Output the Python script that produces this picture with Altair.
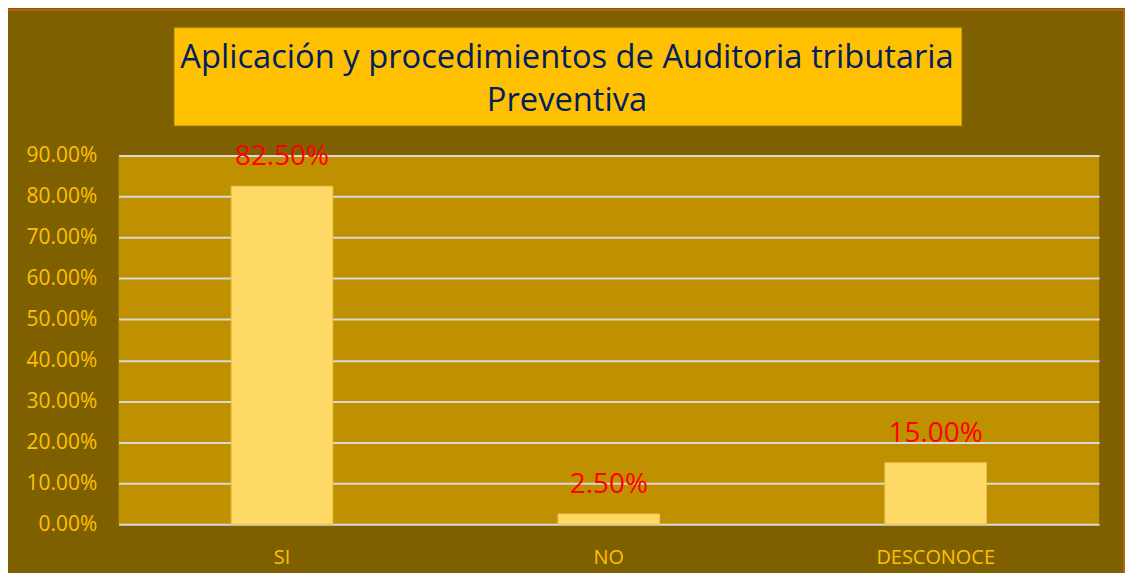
import altair as alt
import pandas as pd

categories = ["SI", "NO", "DESCONOCE"]
values = [0.825, 0.025, 0.15]
labels = ["82.50%", "2.50%", "15.00%"]
title_lines = ["Aplicación y procedimientos de Auditoria tributaria", "Preventiva"]

df = pd.DataFrame({"cat": categories, "val": values, "lab": labels})

FONT = "Open Sans"

x = alt.X("cat:N", sort=categories, title=None,
          scale=alt.Scale(paddingInner=0, paddingOuter=0),
          axis=alt.Axis(labelColor="#FFC000", labelFont=FONT, labelFontSize=20,
                        labelAngle=0, ticks=False, domain=False, labelPadding=23))
y = alt.Y("val:Q", title=None,
          scale=alt.Scale(domain=[0, 0.9], nice=False),
          axis=alt.Axis(format=".2%", values=[i / 10 for i in range(10)],
                        labelColor="#FFC000", labelFont=FONT, labelFontSize=21,
                        ticks=False, domain=False, labelPadding=22,
                        gridColor="#D9D9D9", gridWidth=2, gridOpacity=1))

one = alt.Data(values=[{}])

box = alt.Chart(one).mark_rect(
    color="#FFC000", stroke="#D9A000", strokeWidth=1
).encode(x=alt.value(56), x2=alt.value(846), y=alt.value(-128), y2=alt.value(-30))

title1 = alt.Chart(one).mark_text(
    font=FONT, fontSize=32.8, color="#002060", align="center", baseline="alphabetic"
).encode(x=alt.value(450), y=alt.value(-88), text=alt.value(title_lines[0]))
title2 = alt.Chart(one).mark_text(
    font=FONT, fontSize=32.8, color="#002060", align="center", baseline="alphabetic"
).encode(x=alt.value(450), y=alt.value(-45), text=alt.value(title_lines[1]))

border = alt.Chart(one).mark_rect(
    fill=None, fillOpacity=0, stroke="#C55A11", strokeWidth=2
).encode(x=alt.value(-112), x2=alt.value(1009), y=alt.value(-146), y2=alt.value(430))

bars = alt.Chart(df).mark_bar(size=102, color="#FFD966", stroke="#E8C250", strokeWidth=1).encode(x=x, y=y)
text = alt.Chart(df).mark_text(
    color="#FF0000", font=FONT, fontSize=28, baseline="alphabetic", dy=-21
).encode(x=x, y=y, text="lab:N")

chart = alt.layer(box, title1, title2, bars, text, border).properties(
    width=984, height=370,
    autosize=alt.AutoSizeParams(type="none"),
    padding={"left": 111, "top": 147, "right": 26, "bottom": 48},
    background="#7F6000",
).configure_view(fill="#BF9000", stroke=None)

chart.save("out.html", embed_options={"renderer": "svg", "actions": False})
